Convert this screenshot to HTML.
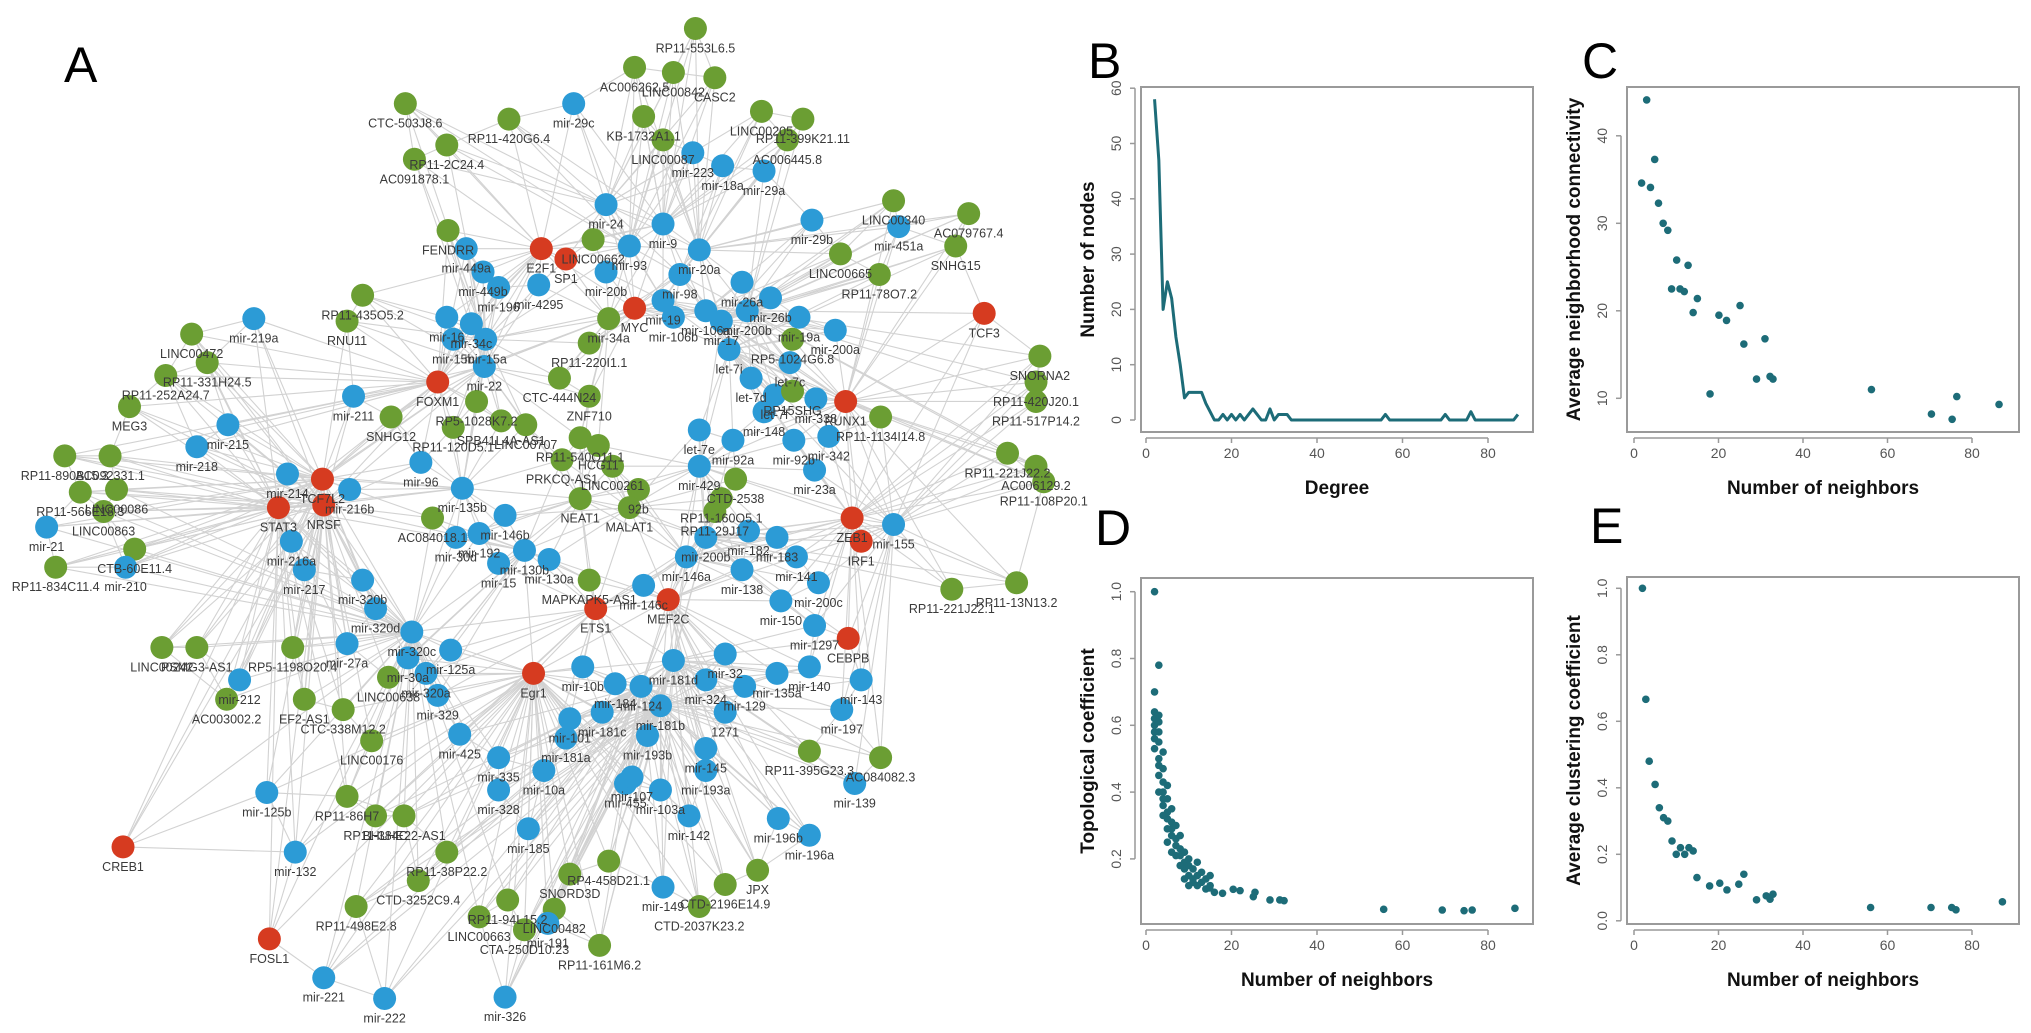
<!DOCTYPE html>
<html><head><meta charset="utf-8">
<style>
html,body{margin:0;padding:0;background:#fff;}
svg{display:block;font-family:"Liberation Sans",Arial,sans-serif;}
.lbl{font-size:12.5px;fill:#3a3a3a;text-anchor:middle;}
.tick{font-size:14px;fill:#555;text-anchor:middle;}
.axt{font-size:19px;font-weight:bold;fill:#111;text-anchor:middle;}
.pl{font-size:50px;fill:#000;}
</style></head>
<body>
<svg id="fig" width="2031" height="1033" viewBox="0 0 2031 1033">
<g id="net"><g id="edges"></g><g id="nodes"></g></g>
<text class="pl" x="64" y="82">A</text>
<text class="pl" x="1088" y="78">B</text>
<text class="pl" x="1582" y="78">C</text>
<text class="pl" x="1095" y="545">D</text>
<text class="pl" x="1590" y="543">E</text>
<g id="charts"></g>
</svg>
<script>
// ---------- Chart data ----------
const degreeValues = [2,3,4,5,6,7,8,9,10,11,12,13,14,15,16,17,18,19,20,21,22,23,24,25,26,27,28,29,30,31,32,33,34,55,56,57,69,70,71,75,76,77,86,87];
const nodeCounts   = [58,47,20,25,22,15,10,4,5,5,5,5,3,1.5,0,0,1,0,1,0,1,0,1,2,1,0,0,2,0,1,1,1,0,0,1,0,0,1,0,0,1.5,0,0,1];
const connX = [3.0,4.9,1.8,3.9,5.8,6.9,8.0,10.1,12.8,8.9,10.9,11.9,15.0,14.0,20.1,21.9,25.1,26.0,31.0,18.0,29.0,32.2,32.9,56.2,76.4,86.4,70.4,75.3];
const connY = [44.1,37.3,34.6,34.1,32.3,30.0,29.2,25.8,25.2,22.5,22.5,22.2,21.4,19.8,19.5,18.9,20.6,16.2,16.8,10.5,12.2,12.5,12.2,11.0,10.2,9.3,8.2,7.6];
const topoX = [2,3,2,2,2,2,3,3,3,2,2,3,3,4,4,3,4,4,5,5,4,5,5,6,6,6,7,6,7,7,8,8,8,9,9,9,10,10,10,11,11,11,12,12,12,13,13,14,14,15,15,16,5,4,3,7,8,9,10,6,4,5,3,2,14.9,17.9,20.4,22,25.1,25.5,29,31.3,32.3,55.6,69.3,74.4,76.3,86.3];
const topoY = [1.0,0.78,0.70,0.64,0.62,0.60,0.63,0.61,0.58,0.56,0.53,0.55,0.50,0.52,0.47,0.45,0.43,0.40,0.42,0.38,0.36,0.34,0.32,0.35,0.31,0.29,0.30,0.27,0.26,0.24,0.27,0.23,0.21,0.22,0.19,0.17,0.20,0.18,0.15,0.17,0.14,0.13,0.19,0.15,0.12,0.16,0.13,0.14,0.11,0.15,0.12,0.10,0.29,0.33,0.40,0.21,0.18,0.14,0.12,0.22,0.38,0.25,0.48,0.58,0.113,0.097,0.109,0.105,0.087,0.10,0.077,0.077,0.075,0.049,0.047,0.045,0.047,0.052];
const clustX = [2,2.8,3.6,5,6,7,8,9,10,11,12,13,14,14.9,17.9,20.3,22,24.8,26,29,31.3,32.2,32.9,56,70.3,75.2,76.2,87.2];
const clustY = [1.0,0.666,0.48,0.41,0.34,0.31,0.30,0.24,0.20,0.22,0.20,0.22,0.21,0.13,0.105,0.113,0.093,0.11,0.14,0.063,0.075,0.065,0.08,0.04,0.04,0.04,0.033,0.057];
const xTicks = [0,20,40,60,80];
const bYTicks = [0,10,20,30,40,50,60];
const cYTicks = [10,20,30,40];
const dYTicks = [0.2,0.4,0.6,0.8,1.0];
const eYTicks = [0.0,0.2,0.4,0.6,0.8,1.0];

const NS = "http://www.w3.org/2000/svg";
function mk(tag, attrs, parent){ const e=document.createElementNS(NS,tag); for(const k in attrs) e.setAttribute(k,attrs[k]); parent.appendChild(e); return e; }
const charts = document.getElementById('charts');

function panel(name, box, sx, sy, yTicks, yFmt, xLabel, yLabel){
  const g = mk('g',{},charts);
  
  
  const r = mk('rect',{x:box[0],y:box[1],width:box[2]-box[0],height:box[3]-box[1],fill:'none',stroke:'#9a9a9a','stroke-width':2},g);
  
  
  const ax = box[3]+6;
  const xl = mk('line',{x1:sx(xTicks[0]),x2:sx(xTicks[xTicks.length-1]),y1:ax,y2:ax,stroke:'#999','stroke-width':1.5},g);
  
  
  xTicks.forEach(t=>{
    mk('line',{x1:sx(t),x2:sx(t),y1:ax,y2:ax+5,stroke:'#999','stroke-width':1.5},g);
    const tx = mk('text',{class:'tick',x:sx(t),y:ax+20},g); tx.textContent=t;
    
    
  });
  const ay = box[0]-6;
  const yv = yTicks.map(sy);
  const yl = mk('line',{x1:ay,x2:ay,y1:Math.min(...yv),y2:Math.max(...yv),stroke:'#999','stroke-width':1.5},g);
  
  
  yTicks.forEach(t=>{
    const y = sy(t);
    mk('line',{x1:ay-5,x2:ay,y1:y,y2:y,stroke:'#999','stroke-width':1.5},g);
    const tx = mk('text',{class:'tick',x:0,y:0,transform:`translate(${ay-14},${y}) rotate(-90)`},g); tx.textContent=yFmt(t);
    
    
  });
  const xt = mk('text',{class:'axt',x:(box[0]+box[2])/2,y:box[3]+62},g); xt.textContent=xLabel;
  
  
  const yt = mk('text',{class:'axt',x:0,y:0,transform:`translate(${box[0]-47},${(box[1]+box[3])/2}) rotate(-90)`},g); yt.textContent=yLabel;
  
  
  return g;
}
const teal = '#1d6c78';
// B
const bx = v=>1146+v*4.275, by = v=>420-v*5.53;
const gB = panel('degree-distribution-chart',[1141,87,1533,432],bx,by,bYTicks,t=>t,'Degree','Number of nodes');
const pB = mk('polyline',{points:degreeValues.map((d,i)=>bx(d)+','+by(nodeCounts[i])).join(' '),fill:'none',stroke:teal,'stroke-width':3,'stroke-linejoin':'round'},gB);


// C
const cx = v=>1634+v*4.225, cy = v=>398.3-(v-10)*8.75;
const gC = panel('neighborhood-connectivity-chart',[1627,87,2019,432],cx,cy,cYTicks,t=>t,'Number of neighbors','Average neighborhood connectivity');
connX.forEach((x,i)=>{ const c=mk('circle',{cx:cx(x),cy:cy(connY[i]),r:3.8,fill:teal},gC);
  
   });
// D
const dy = v=>925.7-v*334;
const gD = panel('topological-coefficient-chart',[1141,578,1533,924],bx,dy,dYTicks,t=>t.toFixed(1),'Number of neighbors','Topological coefficient');
topoX.forEach((x,i)=>{ const c=mk('circle',{cx:bx(x),cy:dy(topoY[i]),r:3.8,fill:teal},gD);
  
   });
// E
const ey = v=>920.8-v*332.5;
const gE = panel('clustering-coefficient-chart',[1627,577,2019,924],cx,ey,eYTicks,t=>t.toFixed(1),'Number of neighbors','Average clustering coefficient');
clustX.forEach((x,i)=>{ const c=mk('circle',{cx:cx(x),cy:ey(clustY[i]),r:3.8,fill:teal},gE);
  
   });

// ---------- Network ----------
const S = 1.295;
const N = [
[537,22,'g','RP11-553L6.5'],[490,52,'g','AC006262.5'],[520,56,'g','LINC00842'],[552,60,'g','CASC2'],[443,80,'b','mir-29c'],
[497,90,'g','KB-1732A1.1'],[313,80,'g','CTC-503J8.6'],[393,92,'g','RP11-420G6.4'],[588,86,'g','LINC00205'],[620,92,'g','RP11-399K21.11'],
[512,108,'g','LINC00087'],[535,118,'b','mir-223'],[608,108,'g','AC006445.8'],[320,123,'g','AC091878.1'],[345,112,'g','RP11-2C24.4'],
[558,128,'b','mir-18a'],[590,132,'b','mir-29a'],[690,155,'g','LINC00340'],[694,175,'b','mir-451a'],[468,158,'b','mir-24'],
[512,173,'b','mir-9'],[627,170,'b','mir-29b'],[346,178,'g','FENDRR'],[360,192,'b','mir-449a'],[418,192,'r','E2F1'],
[437,200,'r','SP1'],[458,185,'g','LINC00662'],[486,190,'b','mir-93'],[540,193,'b','mir-20a'],[373,210,'b','mir-449b'],
[416,220,'b','mir-4295'],[385,222,'b','mir-196'],[468,210,'b','mir-20b'],[525,212,'b','mir-98'],[512,232,'b','mir-19'],
[573,218,'b','mir-26a'],[595,230,'b','mir-26b'],[490,238,'r','MYC'],[520,245,'b','mir-106b'],[649,196,'g','LINC00665'],
[679,212,'g','RP11-78O7.2'],[748,165,'g','AC079767.4'],[738,190,'g','SNHG15'],[760,242,'r','TCF3'],[280,228,'g','RP11-435O5.2'],
[268,248,'g','RNU11'],[345,245,'b','mir-16'],[364,250,'b','mir-34c'],[375,262,'b','mir-15a'],[350,262,'b','mir-15b'],
[545,240,'b','mir-106a'],[557,248,'b','mir-17'],[577,240,'b','mir-200b'],[617,245,'b','mir-19a'],[645,255,'b','mir-200a'],
[612,262,'g','RP5-1024G6.8'],[563,270,'b','let-7i'],[455,265,'g','RP11-220I1.1'],[470,246,'g','mir-34a'],[148,258,'g','LINC00472'],
[196,246,'b','mir-219a'],[160,280,'g','RP11-331H24.5'],[128,290,'g','RP11-252A24.7'],[100,314,'g','MEG3'],[176,328,'b','mir-215'],
[152,345,'b','mir-218'],[273,306,'b','mir-211'],[338,295,'r','FOXM1'],[368,310,'g','RP5-1028K7.2'],[374,283,'b','mir-22'],
[432,292,'g','CTC-444N24'],[455,306,'g','ZNF710'],[406,328,'g','LINC00707'],[387,325,'g','SPB41L4A-AS1'],[350,330,'g','RP11-120D5.1'],
[302,322,'g','SNHG12'],[222,366,'b','mir-214'],[249,370,'r','TCF7L2'],[215,392,'r','STAT3'],[250,390,'r','NRSF'],
[50,352,'g','RP11-890B15.3'],[85,352,'g','AC092331.1'],[62,380,'g','RP11-566E18.3'],[90,378,'g','LINC00086'],[80,395,'g','LINC00863'],
[36,407,'b','mir-21'],[104,424,'g','CTB-60E11.4'],[43,438,'g','RP11-834C11.4'],[97,438,'b','mir-210'],[225,418,'b','mir-216a'],
[235,440,'b','mir-217'],[270,378,'b','mir-216b'],[357,377,'b','mir-135b'],[325,357,'b','mir-96'],[448,338,'g','RP11-540O11.1'],
[473,360,'g','LINC00261'],[462,344,'g','HCG11'],[434,355,'g','PRKCQ-AS1'],[493,378,'g','92b'],[448,385,'g','NEAT1'],
[486,392,'g','MALAT1'],[334,400,'g','AC084018.1'],[390,398,'b','mir-146b'],[405,425,'b','mir-130b'],[424,432,'b','mir-130a'],
[370,412,'b','mir-192'],[352,415,'b','mir-30d'],[385,435,'b','mir-15'],[280,448,'b','mir-320b'],[290,470,'b','mir-320d'],
[318,488,'b','mir-320c'],[348,502,'b','mir-125a'],[315,508,'b','mir-30a'],[268,497,'b','mir-27a'],[329,520,'b','mir-320a'],
[412,520,'r','Egr1'],[516,463,'r','MEF2C'],[460,470,'r','ETS1'],[455,448,'g','MAPKAPK5-AS1'],[497,452,'b','mir-146c'],
[530,430,'b','mir-146a'],[545,415,'b','mir-200b'],[557,385,'g','RP11-160O5.1'],[568,370,'g','CTD-2538'],[552,395,'g','RP11-29J17'],
[540,360,'b','mir-429'],[578,410,'b','mir-182'],[600,415,'b','mir-183'],[573,440,'b','mir-138'],[615,430,'b','mir-141'],
[632,450,'b','mir-200c'],[603,464,'b','mir-150'],[629,483,'b','mir-1297'],[655,493,'r','CEBPB'],[665,525,'b','mir-143'],
[658,400,'r','ZEB1'],[665,418,'r','IRF1'],[690,405,'b','mir-155'],[735,455,'g','RP11-221J22.1'],[785,450,'g','RP11-13N13.2'],
[629,363,'b','mir-23a'],[640,337,'b','mir-342'],[613,340,'b','mir-92b'],[630,308,'b','mir-338'],[680,322,'g','RP11-1134I14.8'],
[653,310,'r','RUNX1'],[590,318,'b','mir-148'],[566,340,'b','mir-92a'],[540,332,'b','let-7e'],[580,292,'b','let-7d'],
[598,305,'b','let-7f'],[612,302,'g','RP15SHG'],[610,280,'b','let-7c'],[803,275,'g','SNORNA2'],[800,295,'g','RP11-420J20.1'],
[800,310,'g','RP11-517P14.2'],[778,350,'g','RP11-221J22.2'],[800,360,'g','AC006129.2'],[806,372,'g','RP11-108P20.1'],[560,505,'b','mir-32'],
[600,520,'b','mir-135a'],[625,515,'b','mir-140'],[575,530,'b','mir-129'],[545,525,'b','mir-324'],[520,510,'b','mir-181d'],
[560,550,'b','1271'],[545,578,'b','mir-145'],[650,548,'b','mir-197'],[680,585,'g','AC084082.3'],[625,580,'g','RP11-395G23.3'],
[660,605,'b','mir-139'],[545,595,'b','mir-193a'],[500,568,'b','mir-193b'],[510,545,'b','mir-181b'],[495,530,'b','mir-124'],
[465,550,'b','mir-181c'],[475,528,'b','mir-184'],[450,515,'b','mir-10b'],[440,555,'b','mir-101'],[437,570,'b','mir-181a'],
[420,595,'b','mir-10a'],[483,605,'b','mir-455'],[510,610,'b','mir-103a'],[488,600,'b','mir-107'],[532,630,'b','mir-142'],
[601,632,'b','mir-196b'],[625,645,'b','mir-196a'],[585,672,'g','JPX'],[560,683,'g','CTD-2196E14.9'],[512,685,'b','mir-149'],
[470,665,'g','RP4-458D21.1'],[440,675,'g','SNORD3D'],[540,700,'g','CTD-2037K23.2'],[385,610,'b','mir-328'],[385,585,'b','mir-335'],
[408,640,'b','mir-185'],[355,567,'b','mir-425'],[338,537,'b','mir-329'],[300,523,'g','LINC00638'],[185,525,'b','mir-212'],
[152,500,'g','PSMG3-AS1'],[125,500,'g','LINC00242'],[175,540,'g','AC003002.2'],[226,500,'g','RP5-1198O20.4'],[235,540,'g','EF2-AS1'],
[287,572,'g','LINC00176'],[265,548,'g','CTC-338M12.2'],[206,612,'b','mir-125b'],[268,615,'g','RP11-86H7'],[290,630,'g','RP11-384C'],
[312,630,'g','BHLHE22-AS1'],[95,654,'r','CREB1'],[228,658,'b','mir-132'],[345,658,'g','RP11-38P22.2'],[323,680,'g','CTD-3252C9.4'],
[392,695,'g','RP11-94L15.2'],[428,702,'g','LINC00482'],[423,713,'b','mir-191'],[405,718,'g','CTA-250D10.23'],[370,708,'g','LINC00663'],
[463,730,'g','RP11-161M6.2'],[390,770,'b','mir-326'],[275,700,'g','RP11-498E2.8'],[208,725,'r','FOSL1'],[250,755,'b','mir-221'],
[297,771,'b','mir-222']
];
const hubNames = ['mir-20a','mir-93','MYC','mir-17','mir-106a','mir-19','let-7i','mir-155','mir-146a','mir-200b','mir-130b','MALAT1','NEAT1','mir-181d','Egr1','mir-34a','mir-98','mir-9','mir-24','E2F1','STAT3','TCF7L2','NRSF','ZEB1','RUNX1','MEF2C','ETS1','FOXM1','mir-124','mir-429','mir-15a','mir-22','mir-135b','mir-320c','mir-181b'];
const pts = N.map(n=>({x:n[0]*S,y:n[1]*S,c:n[2],l:n[3]}));
const hubs = pts.filter(p=>hubNames.includes(p.l));
const eg = document.getElementById('edges');
const seen = new Set();
function addEdge(a,b){
  const k = a.l<b.l? a.l+'|'+b.l : b.l+'|'+a.l; if(seen.has(k)||a===b) return; seen.add(k);
  const e = mk('line',{x1:a.x,y1:a.y,x2:b.x,y2:b.y,stroke:'#d2d2d2','stroke-width':1.1},eg);
  
  
}
pts.forEach(p=>{
  const hs = hubs.map(h=>[h,Math.hypot(h.x-p.x,h.y-p.y)]).sort((a,b)=>a[1]-b[1]);
  const k = hubNames.includes(p.l)?8:4;
  for(let i=0;i<k&&i<hs.length;i++) addEdge(p,hs[i][0]);
  const ns = pts.map(q=>[q,Math.hypot(q.x-p.x,q.y-p.y)]).sort((a,b)=>a[1]-b[1]);
  for(let i=1;i<3;i++) addEdge(p,ns[i][0]);
});
const colors = {g:'#6b9e33',b:'#2c9bd6',r:'#d63b20'};
const ng = document.getElementById('nodes');
pts.forEach(p=>{
  const c = mk('circle',{cx:p.x,cy:p.y,r:11.5,fill:colors[p.c]},ng);
  
  
});
pts.forEach(p=>{
  const t = mk('text',{class:'lbl',x:p.x,y:p.y+24},ng); t.textContent=p.l;
  
  
});
</script>
</body></html>
